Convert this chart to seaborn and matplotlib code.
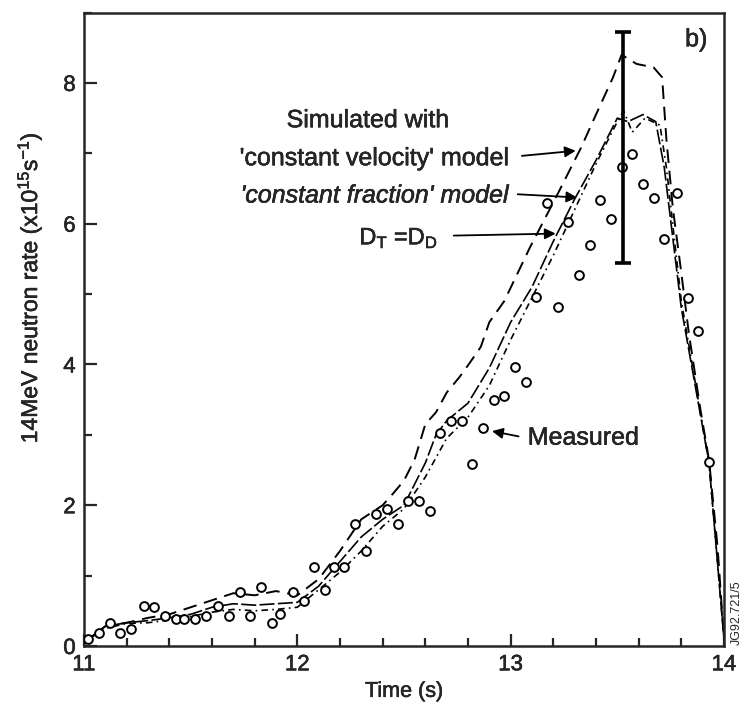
import numpy as np
import pandas as pd
import matplotlib
matplotlib.use("Agg")
import matplotlib.pyplot as plt
import matplotlib.patheffects as pe
from matplotlib.ticker import MultipleLocator
import seaborn as sns

# ---------------- data ----------------
t_meas = [11.02, 11.07, 11.12, 11.17, 11.22, 11.28, 11.33, 11.38, 11.43, 11.47,
          11.52, 11.57, 11.63, 11.68, 11.73, 11.78, 11.83, 11.88, 11.92, 11.98,
          12.03, 12.08, 12.13, 12.17, 12.22, 12.27, 12.32, 12.37, 12.42, 12.47,
          12.52, 12.57, 12.62, 12.67, 12.72, 12.77, 12.82, 12.87, 12.92, 12.97,
          13.02, 13.07, 13.12, 13.17, 13.22, 13.27, 13.32, 13.37, 13.42, 13.47,
          13.52, 13.57, 13.62, 13.67, 13.72, 13.78, 13.83, 13.88, 13.93]
y_meas = [0.10, 0.19, 0.33, 0.19, 0.24, 0.57, 0.56, 0.43, 0.38, 0.38,
          0.38, 0.43, 0.57, 0.43, 0.76, 0.42, 0.84, 0.32, 0.45, 0.76,
          0.64, 1.12, 0.79, 1.12, 1.12, 1.74, 1.35, 1.87, 1.95, 1.74,
          2.06, 2.06, 1.92, 3.02, 3.19, 3.19, 2.58, 3.10, 3.50, 3.55,
          3.97, 3.75, 4.96, 6.29, 4.81, 6.02, 5.27, 5.69, 6.33, 6.06,
          6.80, 6.99, 6.56, 6.37, 5.78, 6.43, 4.95, 4.47, 2.61]

t_vel = [11.0, 11.1, 11.2, 11.3, 11.4, 11.5, 11.6, 11.7, 11.8, 11.9, 12.0, 12.1,
         12.2, 12.3, 12.4, 12.45, 12.5, 12.55, 12.6, 12.65, 12.7, 12.76, 12.81,
         12.86, 12.9, 12.97, 13.09, 13.22, 13.33, 13.4, 13.48, 13.52, 13.59,
         13.67, 13.71, 13.73, 13.76, 13.8, 13.835, 13.89, 13.93, 13.97, 14.0]
y_vel = [0.05, 0.28, 0.33, 0.40, 0.45, 0.55, 0.65, 0.75, 0.72, 0.78, 0.72, 0.95,
         1.35, 1.80, 2.00, 2.17, 2.35, 2.65, 3.15, 3.32, 3.60, 3.82, 4.03,
         4.25, 4.60, 4.90, 5.66, 6.42, 7.08, 7.55, 8.08, 8.40, 8.27,
         8.22, 8.08, 7.20, 6.23, 5.30, 4.45, 3.35, 2.64, 1.40, 0.10]

t_frac = [11.0, 11.1, 11.2, 11.3, 11.4, 11.5, 11.6, 11.7, 11.8, 11.9, 12.0, 12.1,
          12.2, 12.3, 12.4, 12.5, 12.6, 12.7, 12.8, 12.9, 13.0, 13.1, 13.2, 13.3,
          13.4, 13.5, 13.53, 13.57, 13.63, 13.7, 13.73, 13.8, 13.93, 14.0]
y_frac = [0.05, 0.25, 0.32, 0.33, 0.37, 0.42, 0.48, 0.52, 0.50, 0.52, 0.55, 0.80,
          1.05, 1.35, 1.70, 1.95, 2.40, 2.95, 3.25, 3.70, 4.35, 4.95, 5.55, 6.20,
          6.85, 7.45, 7.60, 7.30, 7.50, 7.40, 6.80, 4.90, 2.60, 0.10]

t_dtd = [11.0, 11.1, 11.2, 11.3, 11.4, 11.5, 11.6, 11.7, 11.8, 11.9, 12.0, 12.1,
         12.2, 12.3, 12.4, 12.5, 12.6, 12.65, 12.7, 12.8, 12.9, 13.0, 13.1, 13.2,
         13.3, 13.4, 13.5, 13.55, 13.62, 13.68, 13.72, 13.8, 13.93, 14.0]
y_dtd = [0.05, 0.28, 0.33, 0.36, 0.40, 0.45, 0.55, 0.60, 0.58, 0.60, 0.62, 0.85,
         1.20, 1.55, 1.80, 2.00, 2.60, 3.00, 3.20, 3.45, 3.95, 4.60, 5.10, 5.75,
         6.35, 6.90, 7.50, 7.45, 7.55, 7.45, 6.80, 4.80, 2.60, 0.10]

err_t = [13.525]
err_y = [6.80]
err_lo = [5.44]
err_hi = [8.72]

x_ticks = [11, 12, 13, 14]
y_ticks = [0, 2, 4, 6, 8]

# ---------------- figure ----------------
sns.set_style("ticks")
plt.rcParams['font.family'] = ['Liberation Sans', 'DejaVu Sans']
plt.rcParams['mathtext.fontset'] = 'custom'
plt.rcParams['mathtext.rm'] = 'Liberation Sans'
plt.rcParams['mathtext.it'] = 'Liberation Sans:italic'

thick = [pe.withStroke(linewidth=0.35, foreground="black")]

fig = plt.figure(figsize=(7.44, 7.08), dpi=100)
ax = fig.add_axes([0.1129, 0.0876, 0.8602, 0.8947])

df_vel = pd.DataFrame({"t": t_vel, "y": y_vel})
df_frac = pd.DataFrame({"t": t_frac, "y": y_frac})
df_dtd = pd.DataFrame({"t": t_dtd, "y": y_dtd})
df_meas = pd.DataFrame({"t": t_meas, "y": y_meas})

sns.lineplot(data=df_vel, x="t", y="y", sort=False, ax=ax, color="black",
             lw=1.4, estimator=None)
ax.lines[-1].set_dashes((7, 4))
sns.lineplot(data=df_frac, x="t", y="y", sort=False, ax=ax, color="black",
             lw=1.2, estimator=None)
ax.lines[-1].set_dashes((4, 2.5, 1, 2.5))
sns.lineplot(data=df_dtd, x="t", y="y", sort=False, ax=ax, color="black",
             lw=1.2, estimator=None)
ax.lines[-1].set_dashes((9, 2))

sns.scatterplot(data=df_meas, x="t", y="y", ax=ax, marker="o", s=40,
                facecolor="white", edgecolor="black", linewidth=1.4, zorder=5)

ax.errorbar(err_t, err_y,
            yerr=[[err_y[0] - err_lo[0]], [err_hi[0] - err_y[0]]],
            fmt="none", ecolor="black", elinewidth=2.6, capsize=6,
            capthick=2.6, zorder=6)

ax.set_xlim(11, 14)
ax.set_ylim(0, 9)
ax.set_xticks(x_ticks)
ax.set_yticks(y_ticks)
ax.xaxis.set_minor_locator(MultipleLocator(0.2))
ax.yaxis.set_minor_locator(MultipleLocator(1))
ax.tick_params(which="major", direction="in", length=9, width=1.6,
               labelsize=16, pad=6)
ax.tick_params(which="minor", direction="in", length=5.5, width=1.6)
for s in ax.spines.values():
    s.set_linewidth(1.8)
for lab in ax.get_xticklabels() + ax.get_yticklabels():
    lab.set_path_effects(thick)

ax.set_xlabel("Time (s)", fontsize=15.5, labelpad=4, path_effects=thick)
ax.set_ylabel(r"14MeV neutron rate (x10$^{\mathregular{15}}$s$^{\mathregular{-1}}$)",
              fontsize=16.5, path_effects=thick)
ax.yaxis.set_label_coords(-0.062, 0.565)

# annotations
tfs = 18
ax.text(12.33, 7.47, "Simulated with", fontsize=tfs, ha="center", va="center",
        path_effects=thick)
ax.text(12.99, 6.93, "'constant velocity' model", fontsize=tfs, ha="right",
        va="center", path_effects=thick)
ax.text(12.99, 6.40, "'constant fraction' model", fontsize=tfs, ha="right",
        va="center", style="italic", path_effects=thick)
ax.text(12.66, 5.80, r"D$_{\mathregular{T}}$ =D$_{\mathregular{D}}$", fontsize=17,
        ha="right", va="center", path_effects=thick)
ax.text(13.08, 2.96, "Measured", fontsize=tfs, ha="left", va="center",
        path_effects=thick)
ax.text(13.87, 8.62, "b)", fontsize=tfs, ha="center", va="center",
        path_effects=thick)

arrow = dict(arrowstyle="-|>", color="black", lw=1.3, mutation_scale=16)
ax.annotate("", xy=(13.318, 7.04), xytext=(13.04, 6.96), arrowprops=arrow)
ax.annotate("", xy=(13.325, 6.37), xytext=(13.02, 6.42), arrowprops=arrow)
ax.annotate("", xy=(13.224, 5.86), xytext=(12.72, 5.83), arrowprops=arrow)
ax.annotate("", xy=(12.90, 3.06), xytext=(13.05, 2.97), arrowprops=arrow)

fig.text(0.99, 0.135, "JG92.721/5", rotation=90, fontsize=9,
         ha="center", va="center")

fig.savefig("out.png", dpi=100)
